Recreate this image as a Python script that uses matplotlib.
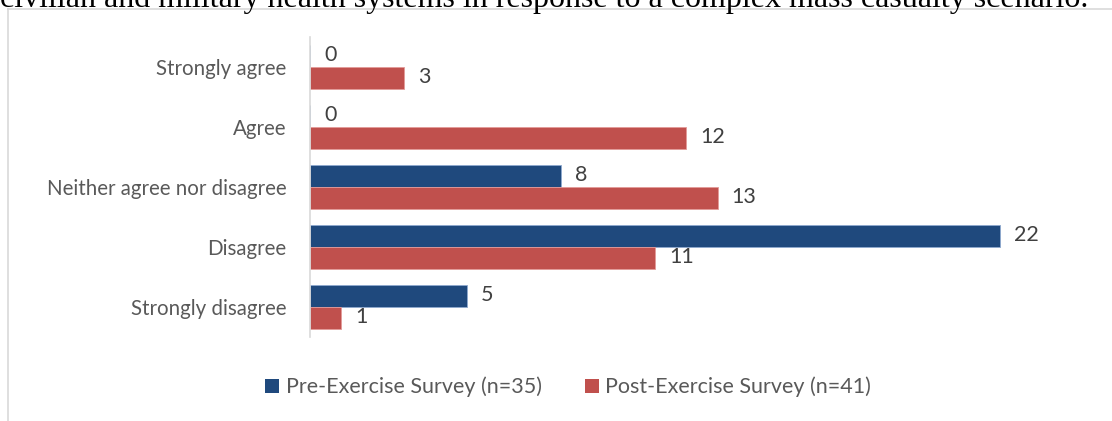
import matplotlib
matplotlib.use("Agg")
import matplotlib.pyplot as plt
from matplotlib.lines import Line2D
from matplotlib.patches import Patch

categories = ["Strongly agree", "Agree", "Neither agree nor disagree", "Disagree", "Strongly disagree"]
pre_values = [0, 0, 8, 22, 5]
post_values = [3, 12, 13, 11, 1]
series_names = ["Pre-Exercise Survey (n=35)", "Post-Exercise Survey (n=41)"]
caption = "civilian and military health systems in response to a complex mass casualty scenario."

W, H = 1112, 421
DPI = 100
fig = plt.figure(figsize=(W / DPI, H / DPI), dpi=DPI)
fig.patch.set_facecolor("white")

BLUE = "#1F497D"
RED = "#C0504D"
LABEL_FONT = ["Lato", "DejaVu Sans"]

# axes placement in pixels
ax_left, ax_top, ax_bottom = 310, 37, 337
px_per_unit = (1000 - 310) / 22.0
xmax = 24
ax_w = xmax * px_per_unit
ax = fig.add_axes([ax_left / W, (H - ax_bottom) / H, ax_w / W, (ax_bottom - ax_top) / H])

n = len(categories)
ypos = list(range(n))
bh = 22 / 60.0
pre_y = [y - bh / 2 for y in ypos]
post_y = [y + bh / 2 for y in ypos]
ax.barh(pre_y, pre_values, height=bh, color=BLUE, edgecolor="#8EA9CF", linewidth=0.6)
ax.barh(post_y, post_values, height=bh, color=RED, edgecolor="#E39A98", linewidth=0.6)
ax.set_ylim(n - 0.5, -0.5)
ax.set_xlim(0, xmax)

for y, v in zip(pre_y, pre_values):
    ax.annotate(str(v), xy=(v, y), xytext=(14, 1), textcoords="offset pixels",
                ha="left", va="center", fontsize=15.5, color="#404040", family=LABEL_FONT)
for y, v in zip(post_y, post_values):
    ax.annotate(str(v), xy=(v, y), xytext=(14, 1), textcoords="offset pixels",
                ha="left", va="center", fontsize=15.5, color="#404040", family=LABEL_FONT)

ax.set_yticks(ypos)
ax.set_yticklabels(categories, fontsize=14.8, color="#595959", family=LABEL_FONT)
ax.tick_params(axis="y", length=0, pad=17)
ax.set_xticks([])
for s in ["top", "right", "bottom"]:
    ax.spines[s].set_visible(False)
ax.spines["left"].set_color("#D9D9D9")
ax.spines["left"].set_linewidth(1.2)

# chart frame
fig.add_artist(Line2D([8 / W, 8 / W], [0, 1 - 9 / H], color="#D9D9D9", lw=1.2, transform=fig.transFigure))
fig.add_artist(Line2D([8 / W, 1], [1 - 9 / H, 1 - 9 / H], color="#D9D9D9", lw=1.2, transform=fig.transFigure))

# legend
handles = [Patch(facecolor=BLUE, edgecolor="none"), Patch(facecolor=RED, edgecolor="none")]
fig.legend(handles, series_names, loc="center", bbox_to_anchor=(568 / W, 1 - 387 / H),
           ncol=2, frameon=False, handlelength=0.65, handleheight=0.65, handletextpad=0.3,
           columnspacing=2.0, prop={"family": LABEL_FONT, "size": 15.5}, labelcolor="#595959")

# caption cut at the top (fit width to ~1092 px)
t = fig.text(0, 1 - 7 / H, caption, ha="left", va="baseline", family="Liberation Serif",
             fontsize=20, color="black")
fig.canvas.draw()
wpx = t.get_window_extent().width
t.set_fontsize(20 * 1092 / wpx)

fig.savefig("out.png", dpi=DPI, facecolor="white")
